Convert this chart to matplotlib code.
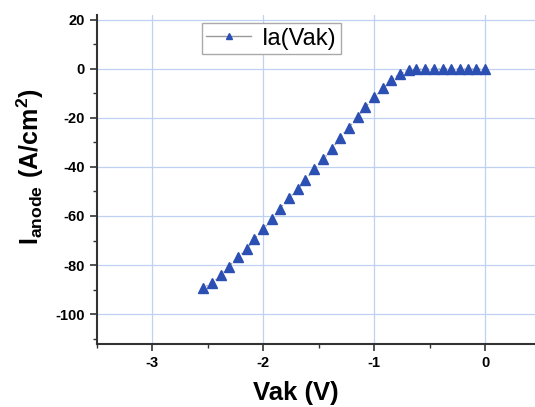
import matplotlib
matplotlib.use('Agg')
import matplotlib.pyplot as plt
from matplotlib.ticker import MultipleLocator

plt.rcParams['font.family'] = ['Liberation Sans', 'DejaVu Sans']
plt.rcParams['axes.unicode_minus'] = False
plt.rcParams['mathtext.fontset'] = 'custom'
plt.rcParams['mathtext.rm'] = 'Liberation Sans'
plt.rcParams['mathtext.bf'] = 'Liberation Sans:bold'

# anode voltage (V) and anode current density (A/cm2)
vak = [-2.54, -2.46, -2.38, -2.31, -2.23, -2.15, -2.08, -2.00, -1.92, -1.85,
       -1.77, -1.69, -1.62, -1.54, -1.46, -1.38, -1.31, -1.23, -1.15, -1.08,
       -1.00, -0.92, -0.85, -0.77, -0.69, -0.62, -0.54, -0.46, -0.38, -0.31,
       -0.23, -0.15, -0.08, 0.00]
ia = [-89.4, -87.2, -84.2, -80.7, -76.9, -73.5, -69.4, -65.4, -61.2, -57.0,
      -52.8, -49.1, -45.3, -41.0, -36.9, -32.7, -28.0, -24.0, -19.7, -15.6,
      -11.6, -7.9, -4.6, -2.0, -0.5, -0.2, 0.0, 0.0, 0.0, 0.0,
      0.0, 0.0, 0.0, 0.0]

fig = plt.figure(figsize=(5.35, 4.07), dpi=100)
ax = fig.add_axes([0.181, 0.155, 0.819, 0.808])

ax.plot(vak, ia, color='#999999', linestyle=':', linewidth=1.0, zorder=2)
ax.plot(vak, ia, linestyle='none', marker='^', markersize=7,
        color='#2b4fb3', zorder=3)
# legend handle: grey line through a small blue triangle
ax.plot([], [], color='#999999', linewidth=1.0, marker='^', markersize=5,
        markerfacecolor='#2b4fb3', markeredgecolor='#2b4fb3', label='Ia(Vak)')

ax.set_xlim(-3.5, 0.45)
ax.set_ylim(-112.2, 22)
ax.xaxis.set_major_locator(MultipleLocator(1))
ax.xaxis.set_minor_locator(MultipleLocator(0.5))
ax.yaxis.set_major_locator(MultipleLocator(20))
ax.yaxis.set_minor_locator(MultipleLocator(10))

ax.grid(True, which='major', color='#bfd0f0', linewidth=0.9)
ax.set_axisbelow(True)

for s in ['top', 'right']:
    ax.spines[s].set_visible(False)
for s in ['left', 'bottom']:
    ax.spines[s].set_color('#333333')
    ax.spines[s].set_linewidth(1.5)

ax.tick_params(which='major', direction='out', length=5, width=1.2,
               color='#333333', labelsize=10.5)
ax.tick_params(which='minor', direction='out', length=3, width=1.0,
               color='#333333')
for lab in ax.get_xticklabels() + ax.get_yticklabels():
    lab.set_fontweight('bold')

ax.set_xlabel('Vak (V)', fontsize=18.5, fontweight='bold')
ax.xaxis.set_label_coords(0.454, -0.113)
ax.set_ylabel(r'$\mathbf{I_{anode}\ (A/cm^{2})}$', fontsize=18)
ax.yaxis.set_label_coords(-0.117, 0.54)

leg = ax.legend(loc='upper left', bbox_to_anchor=(0.239, 0.976),
                borderaxespad=0, fontsize=17, fancybox=False, framealpha=1,
                handlelength=1.9, borderpad=0.2, handletextpad=0.45)
leg.get_frame().set_edgecolor('#aaaaaa')

fig.savefig('out.png', dpi=100)
